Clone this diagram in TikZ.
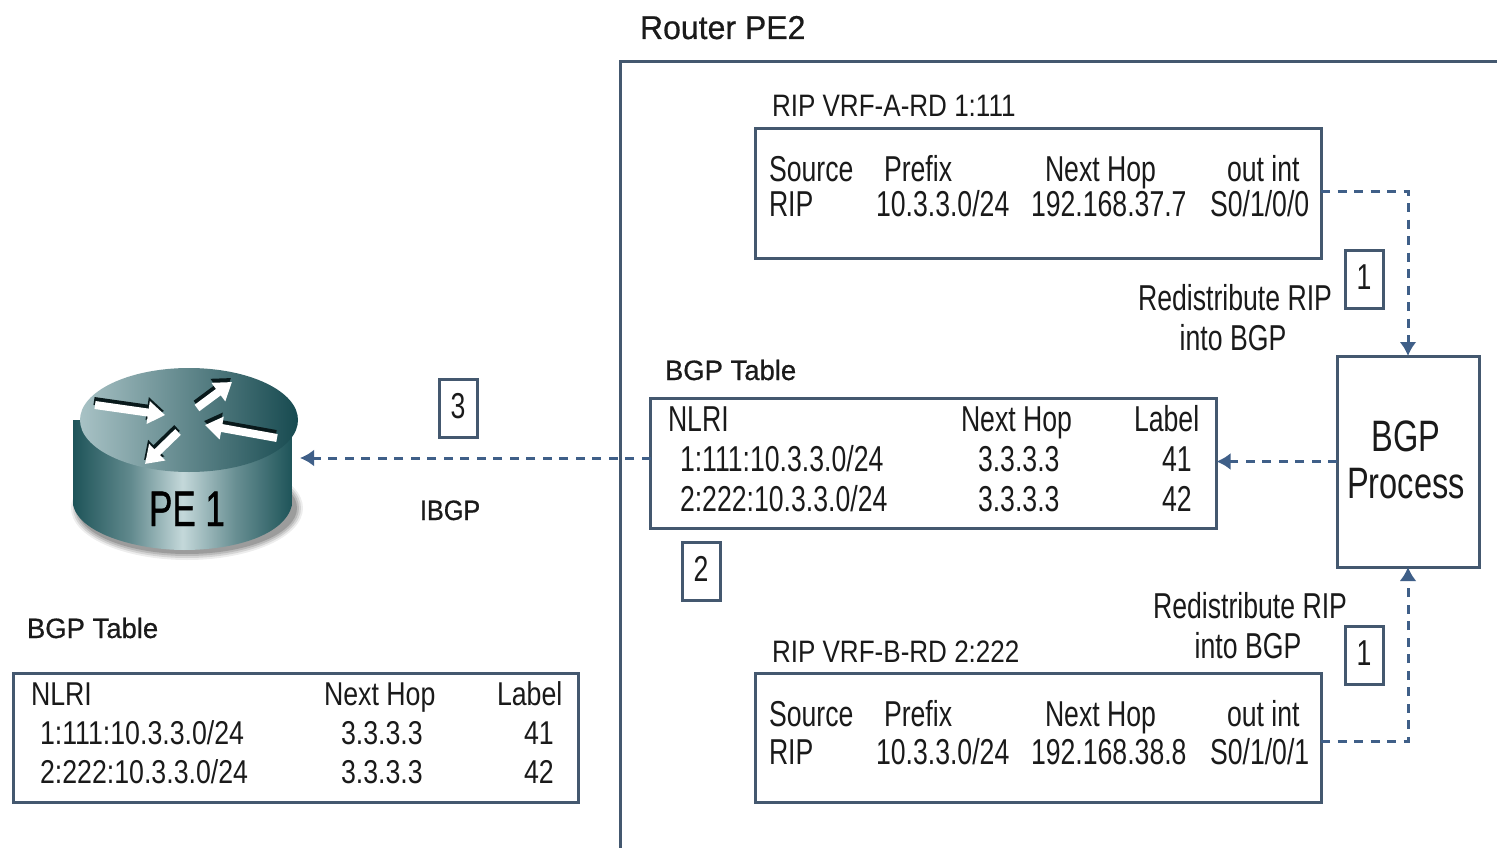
\documentclass[tikz,border=0pt]{standalone}
\usepackage{fontspec}
\setmainfont{Liberation Sans}
\newfontfamily\cond[FakeStretch=0.74]{Liberation Sans}
\newfontfamily\condm[FakeStretch=0.81]{Liberation Sans}
\newfontfamily\condt[FakeStretch=0.84]{Liberation Sans}
\newfontfamily\condw[FakeStretch=0.98,FakeBold=0.6]{Liberation Sans}
\newfontfamily\condi[FakeStretch=0.90,FakeBold=0.6]{Liberation Sans}
\newfontfamily\condr[FakeStretch=0.97,FakeBold=0.6]{Liberation Sans}
\newfontfamily\condp[FakeStretch=0.70,FakeBold=0.8]{Liberation Sans}
\usetikzlibrary{arrows.meta}
\definecolor{boxc}{HTML}{44586F}
\definecolor{dashc}{HTML}{3F5F88}
\definecolor{txtc}{HTML}{1A1A1A}
\definecolor{rdark}{HTML}{1E5459}
\definecolor{rlight}{HTML}{C4D8DA}
\definecolor{rtopl}{HTML}{A8C2C5}
\definecolor{rtopd}{HTML}{174A50}
\pgfdeclarehorizontalshading{routerbody}{100bp}{
  color(0bp)=(rdark); color(25bp)=(rdark); color(38bp)=(rdark!60!rlight);
  color(50bp)=(rlight); color(62bp)=(rdark!55!rlight); color(75bp)=(rdark); color(100bp)=(rdark)}
\tikzset{
  txt/.style={inner sep=0pt,outer sep=0pt,anchor=base west,text=txtc,font=\cond\fontsize{36}{36}\selectfont},
  smalltxt/.style={txt,font=\condt\fontsize{31}{31}\selectfont},
  midtxt/.style={txt,font=\condm\fontsize{33}{33}\selectfont},
  lbl/.style={txt,font=\condw\fontsize{28}{28}\selectfont},
  frame/.style={draw=boxc,line width=3pt,fill=white,inner sep=0pt,outer sep=0pt},
  numbox/.style={frame,minimum width=38pt,minimum height=58pt,font=\cond\fontsize{36}{36}\selectfont,text=txtc},
  dashline/.style={draw=dashc,line width=3pt,dash pattern=on 9pt off 7.5pt},
  tip/.style={-{Latex[length=14pt,width=17pt]}},
  rshadow/.style={draw=black!70!rdark,line width=8pt,-{Triangle[length=17pt,width=22pt]}},
  rarrow/.style={draw=white,line width=8pt,-{Triangle[length=17pt,width=22pt]}}
}
\newcommand{\tbox}[5]{\node[frame,minimum width=#4pt,minimum height=#5pt] (#1) at (#2,#3) {};}
\newcommand{\numtxt}[1]{\raisebox{4pt}{#1}\hspace{6pt}}
\begin{document}
\begin{tikzpicture}[x=1pt,y=-1pt]
\useasboundingbox[fill=white] (0,0) rectangle (1497,848);
% Router PE2 enclosure
\draw[boxc,line width=3pt] (1497,62) -- (620,62) -- (620,848);
\node[txt,font=\condr\fontsize{33}{33}\selectfont] (title) at (640,39) {Router PE2};
% boxes
\tbox{A}{1038}{193.5}{566}{129}
\tbox{B}{1038}{737.5}{566}{129}
\tbox{T}{933.5}{463}{566}{130}
\tbox{L}{296}{737.5}{565}{129}
\node[frame,minimum width=142pt,minimum height=211pt] (bgp) at (1408,461.5) {};
\node[numbox] (n1a) at (1364,279) {\numtxt{1}};
\node[numbox] (n1b) at (1364,655) {\numtxt{1}};
\node[numbox] (n2) at (701,571) {\numtxt{2}};
\node[numbox] (n3) at (458,408) {\numtxt{3}};
% router
\foreach \r/\o in {8/0.07,6/0.10,4/0.12,2/0.16}
  \fill[black,opacity=\o] (187,508) ellipse[x radius=108+\r,y radius=44+\r];
\shade[shading=routerbody] (73,420) -- (73,505)
  .. controls (80,535) and (140,550) .. (184,550)
  .. controls (235,550) and (285,535) .. (292,505) -- (292,420) -- cycle;
\shade[left color=rtopl,right color=rtopd] (189,420) ellipse[x radius=109,y radius=52];
\foreach \xa/\ya/\xb/\yb in {95/405/165/415,197/408/232/382,277/438/205/425,178/432/145/464}{
  \draw[rshadow] (\xa-1,\ya-4) -- (\xb-1,\yb-4);
  \draw[rarrow] (\xa,\ya) -- (\xb,\yb);
}
\node[inner sep=0pt,outer sep=0pt,minimum width=227pt,minimum height=10pt] (pe1) at (186.5,458) {};
\node[anchor=base,inner sep=0pt,text=black,font=\condp\fontsize{50}{50}\selectfont] (pe1txt) at (187,526) {PE 1};
% connectors
\draw[dashline,tip] ([yshift=2.5pt]A.east) -| (bgp.north);
\draw[dashline,tip] ([yshift=-3.5pt]B.east) -| (bgp.south);
\draw[dashline,tip] (bgp.west) -- (T.east |- bgp.west);
\draw[dashline,tip] (T.west |- pe1.east) -- (pe1.east);
% table A
\node[smalltxt] (atitle) at (772,117) {RIP VRF-A-RD 1:111};
\node[txt] (a1) at (769,182) {Source};
\node[txt] (a2) at (884,182) {Prefix};
\node[txt] (a3) at (1045,182) {Next Hop};
\node[txt] (a4) at (1227,182) {out int};
\node[txt] (a5) at (769,216) {RIP};
\node[txt] (a6) at (876,216) {10.3.3.0/24};
\node[txt] (a7) at (1031,216) {192.168.37.7};
\node[txt] (a8) at (1210,216) {S0/1/0/0};
% table B
\node[smalltxt] (btitle) at (772,662) {RIP VRF-B-RD 2:222};
\node[txt] (b1) at (769,726) {Source};
\node[txt] (b2) at (884,726) {Prefix};
\node[txt] (b3) at (1045,726) {Next Hop};
\node[txt] (b4) at (1227,726) {out int};
\node[txt] (b5) at (769,764) {RIP};
\node[txt] (b6) at (876,764) {10.3.3.0/24};
\node[txt] (b7) at (1031,764) {192.168.38.8};
\node[txt] (b8) at (1210,764) {S0/1/0/1};
% BGP table PE2
\node[lbl] (ttitle) at (665,380) {BGP Table};
\node[txt] (t1) at (668,431) {NLRI};
\node[txt] (t2) at (961,431) {Next Hop};
\node[txt] (t3) at (1134,431) {Label};
\node[txt] (t4) at (680,471) {1:111:10.3.3.0/24};
\node[txt] (t5) at (978,471) {3.3.3.3};
\node[txt] (t6) at (1162,471) {41};
\node[txt] (t7) at (680,511) {2:222:10.3.3.0/24};
\node[txt] (t8) at (978,511) {3.3.3.3};
\node[txt] (t9) at (1162,511) {42};
% BGP table PE1
\node[lbl] (ltitle) at (27,638) {BGP Table};
\node[midtxt] (l1) at (31,705) {NLRI};
\node[midtxt] (l2) at (324,705) {Next Hop};
\node[midtxt] (l3) at (497,705) {Label};
\node[midtxt] (l4) at (40,744) {1:111:10.3.3.0/24};
\node[midtxt] (l5) at (341,744) {3.3.3.3};
\node[midtxt] (l6) at (524,744) {41};
\node[midtxt] (l7) at (40,783) {2:222:10.3.3.0/24};
\node[midtxt] (l8) at (341,783) {3.3.3.3};
\node[midtxt] (l9) at (524,783) {42};
% labels
\node[txt,anchor=base] (r1a) at (1235,310) {Redistribute RIP};
\node[txt,anchor=base] (r1b) at (1233,350) {into BGP};
\node[txt,anchor=base] (r2a) at (1250,618) {Redistribute RIP};
\node[txt,anchor=base] (r2b) at (1248,658) {into BGP};
\node[txt,font=\condi\fontsize{28}{28}\selectfont] (ibgp) at (420,520) {IBGP};
\node[txt,anchor=base,font=\cond\fontsize{44}{44}\selectfont] (bgp1) at (1406,451) {BGP};
\node[txt,anchor=base,font=\cond\fontsize{44}{44}\selectfont] (bgp2) at (1406,498) {Process};
\end{tikzpicture}
\end{document}
